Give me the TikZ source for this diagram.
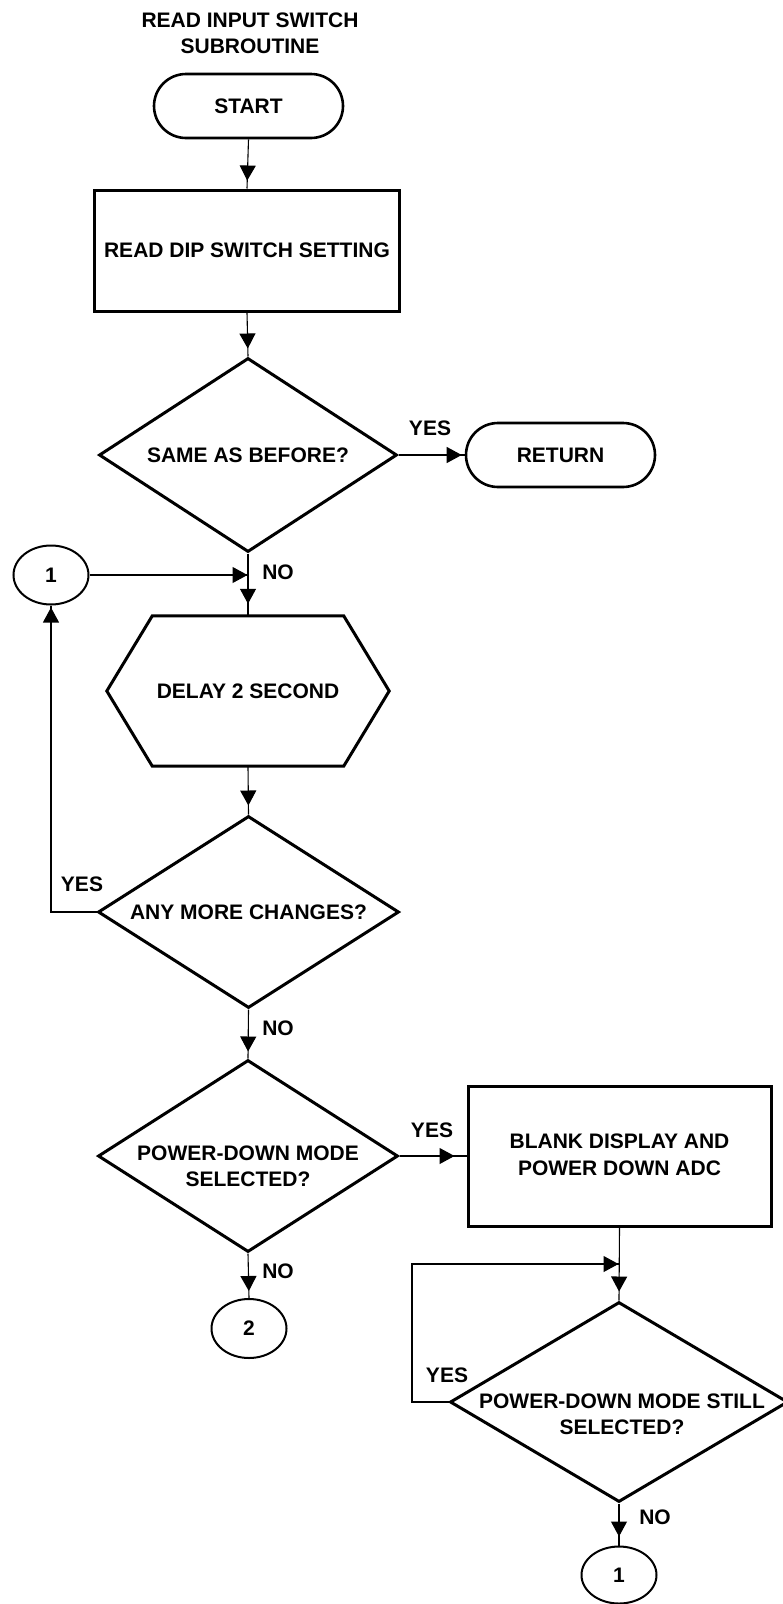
\documentclass[tikz,border=0pt]{standalone}
\usepackage{fontspec}
\setmainfont{Liberation Sans}
\usetikzlibrary{arrows.meta,shapes.geometric,decorations.markings,calc}
\begin{document}
\begin{tikzpicture}[x=1pt,y=-1pt,
  every node/.style={font=\fontsize{21}{26.5}\selectfont\bfseries, inner sep=0pt, align=center},
  term/.style={draw, line width=2.6pt, rounded corners=32pt, minimum width=189pt, minimum height=64pt},
  proc/.style={draw, line width=3pt, rectangle},
  dec/.style={draw, line width=3pt, shape=diamond},
  conr/.style={draw, line width=2pt, ellipse, minimum width=75pt, minimum height=59pt},
  conn/.style={line width=1.1pt},
  tipgap/.style={postaction={decorate},
    decoration={markings, mark=at position -#1 with {\arrow{Triangle[length=15pt,width=16pt]}}}},
]
\useasboundingbox (0,0) rectangle (783,1604);

% title
\node (title) at (250,33.5) {READ INPUT SWITCH\\SUBROUTINE};

% main column
\node[term] (start) at (248.5,106) {START};
\node[proc, minimum width=305pt, minimum height=121pt] (read) at (247,250.5) {READ DIP SWITCH SETTING};
\node[dec, minimum width=298pt, minimum height=194pt] (d1) at (248,455) {};
\node (d1t) at (248,455) {SAME AS BEFORE?};
\node[term] (ret) at (560.5,455) {RETURN};
\node[conr] (c1) at (51,575) {1};
\coordinate (j1) at (248,575);

% delay block (hexagon)
\node[minimum width=282pt, minimum height=150pt] (hex) at (248,691) {DELAY 2 SECOND};
\draw[line width=3pt, line join=miter]
  ($(hex.north west)+(45.5,0)$) -- ($(hex.north east)+(-45.5,0)$) -- (hex.east)
  -- ($(hex.south east)+(-45.5,0)$) -- ($(hex.south west)+(45.5,0)$) -- (hex.west) -- cycle;

\node[dec, minimum width=301pt, minimum height=192pt] (d2) at (248.5,912) {};
\node (d2t) at (248.5,912) {ANY MORE CHANGES?};

\node[dec, minimum width=300pt, minimum height=192pt] (d3) at (248,1156) {};
\node (d3t) at (248,1166.5) {POWER-DOWN MODE\\SELECTED?};
\node[conr] (c2) at (249,1328.5) {2};

% right column
\node[proc, minimum width=303pt, minimum height=140pt] (blank) at (619.5,1156) {};
\node (blankt) at (619.5,1155) {BLANK DISPLAY AND\\POWER DOWN ADC};
\node[dec, minimum width=338pt, minimum height=200pt] (d4) at (619,1402) {};
\node (d4t) at (622,1414.5) {POWER-DOWN MODE STILL\\SELECTED?};
\node[conr, minimum height=57pt] (c1b) at (619,1575) {1};
\coordinate (lp) at (412,1264);
\coordinate (j2) at (619,1264);

% connectors
\draw[conn, tipgap=8pt] (start.south) -- (read.north);
\draw[conn, tipgap=8pt] (read.south) -- (d1.north);
\draw[conn, tipgap=3pt] (d1.east) -- (ret.west);
\draw[conn, tipgap=12pt] (d1.south) -- (hex.north);
\draw[conn, tipgap=0.5pt] (c1.east) -- (j1);
\draw[conn, tipgap=9pt] (hex.south) -- (d2.north);
\draw[conn, tipgap=2pt] (d2.west) -| (c1.south);
\draw[conn, tipgap=7pt] (d2.south) -- (d3.north);
\draw[conn, tipgap=12pt] (d3.east) -- (blank.west);
\draw[conn, tipgap=7pt] (d3.south) -- (c2.north);
\draw[conn, tipgap=9pt] (blank.south) -- (d4.north);
\draw[conn, tipgap=0.5pt] (d4.west) -| (lp) -- (j2);
\draw[conn, tipgap=9pt] (d4.south) -- (c1b.north);

% branch labels
\node (y1) at (430,428) {YES};
\node (n1) at (278,572) {NO};
\node (y2) at (82,884) {YES};
\node (n2) at (278,1028) {NO};
\node (y3) at (432,1130) {YES};
\node (n3) at (278,1271) {NO};
\node (y4) at (447,1375) {YES};
\node (n4) at (655,1517) {NO};
\end{tikzpicture}
\end{document}
